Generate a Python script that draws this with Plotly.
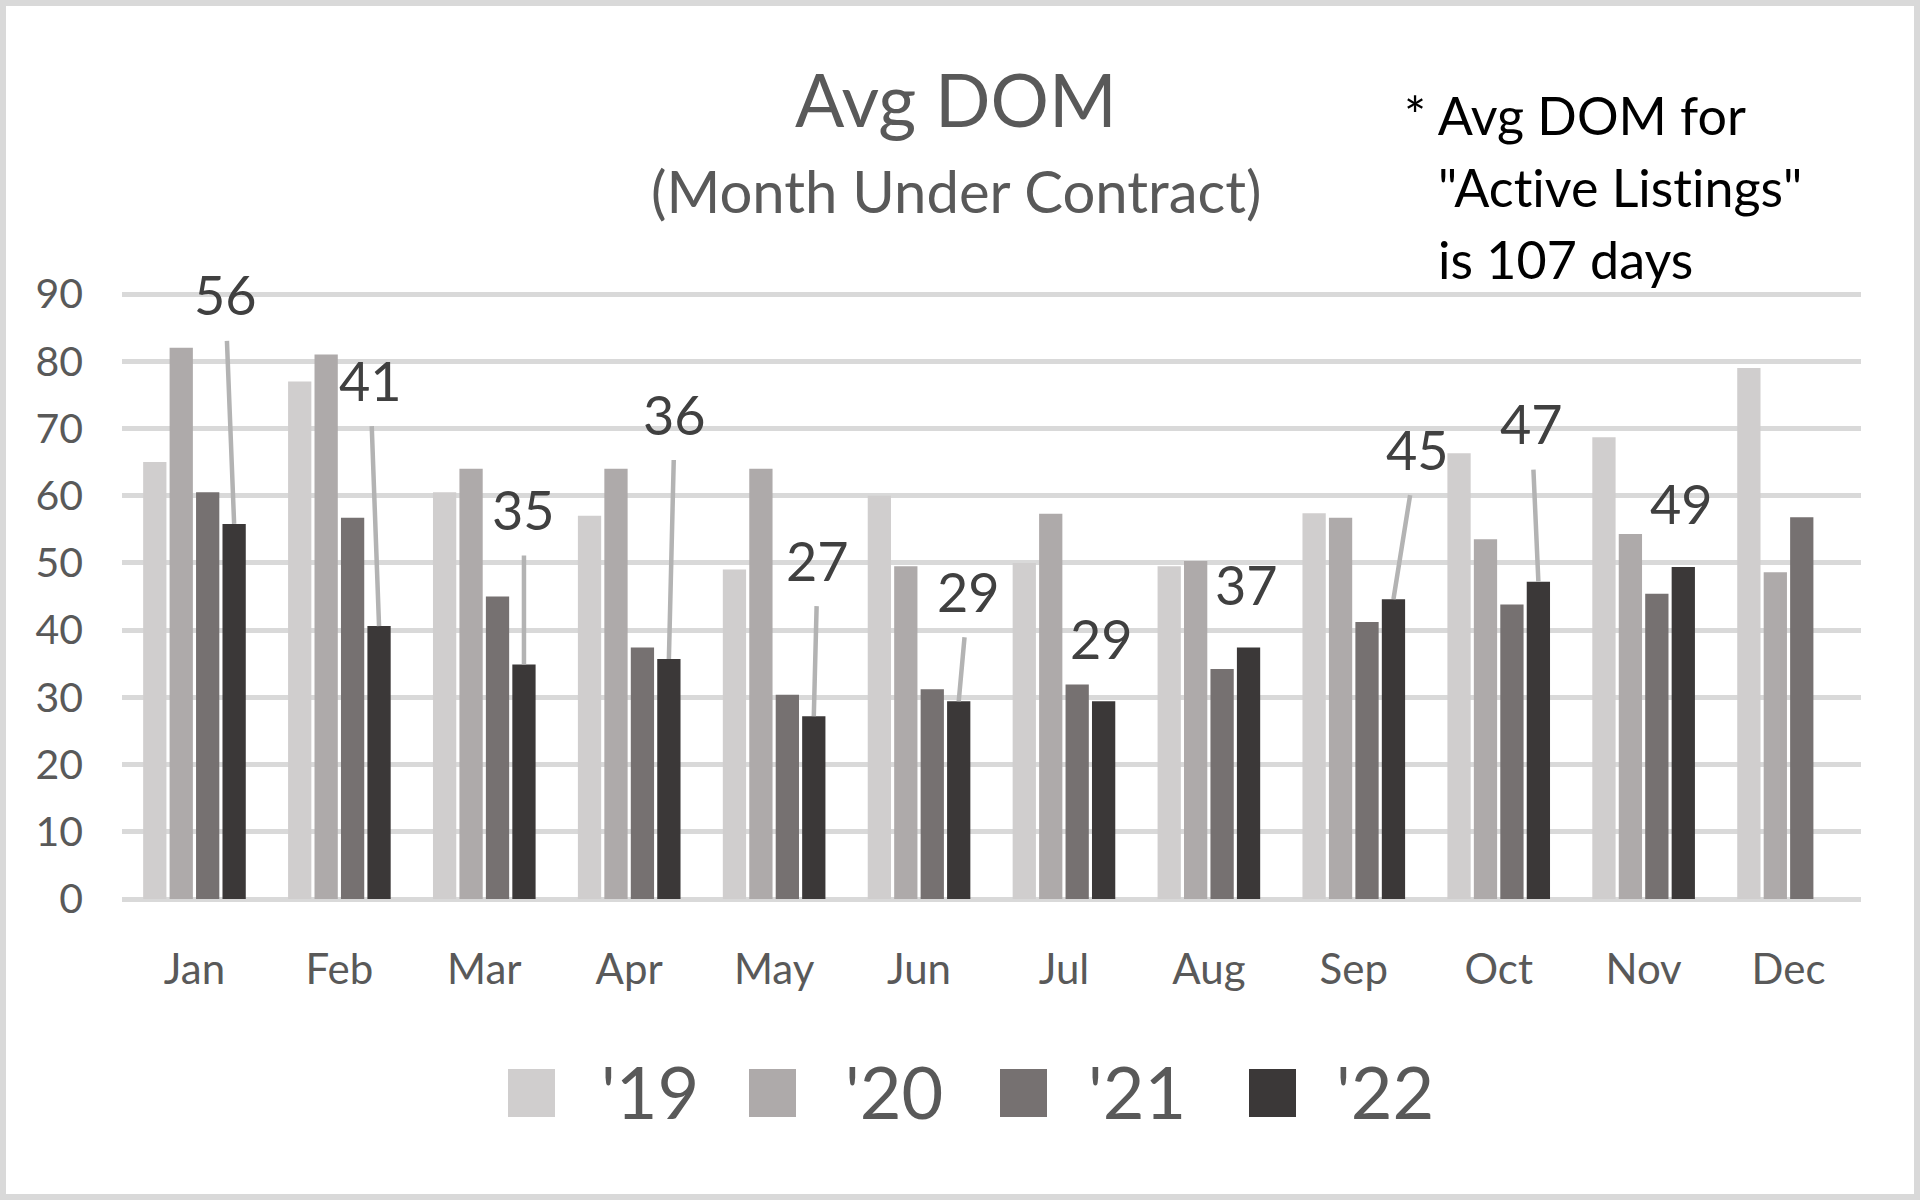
import plotly.graph_objects as go

# ---------------- data ----------------
months = ["Jan", "Feb", "Mar", "Apr", "May", "Jun", "Jul", "Aug", "Sep", "Oct", "Nov", "Dec"]
series_names = ["'19", "'20", "'21", "'22"]
dom_2019 = [65, 77, 60.5, 57, 49, 60, 50, 49.5, 57.4, 66.3, 68.7, 79]
dom_2020 = [82, 81, 64, 64, 64, 49.5, 57.3, 50.3, 56.7, 53.5, 54.3, 48.6]
dom_2021 = [60.5, 56.7, 45, 37.4, 30.4, 31.2, 31.9, 34.2, 41.2, 43.8, 45.4, 56.8]
dom_2022 = [55.8, 40.6, 34.9, 35.7, 27.2, 29.4, 29.4, 37.4, 44.6, 47.2, 49.4, None]
y_ticks = [0, 10, 20, 30, 40, 50, 60, 70, 80, 90]
title_text = "Avg DOM"
subtitle_text = "(Month Under Contract)"
# \u200c prevents the "ti" ligature of the font
note_lines = ["* Avg DOM for", "\"Act\u200cive List\u200cings\"", "is 107 days"]

# ---------------- style ----------------
colors = ["#d0cece", "#aeaaaa", "#767171", "#3b3838"]
FONT = "Lato"
TXT = "#595959"
W, H = 1920, 1200
ML, MR, MT, MB = 122, 59, 292, 301
PW, PH = W - ML - MR, H - MT - MB
BARGAP, GROUPGAP = 0.27, 0.12

# label placement for the '22 labels: (ax, ay) arrow offsets in px, or None -> plain label above bar
label_offsets = [(-9, -229), (-9, -246), (0, -155), (6, -245), (4, -156), (10, -110),
                 None, None, (24, -150), (-7, -158), None, None]


def px(X):
    return (X - ML) / PW


def py(Y):
    return (H - MB - Y) / PH


series = [dom_2019, dom_2020, dom_2021, dom_2022]
fig = go.Figure()
for name, vals, col in zip(series_names, series, colors):
    fig.add_trace(go.Bar(x=months, y=vals, name=name, marker=dict(color=col, line_width=0),
                         showlegend=False))

slot = (1 - BARGAP) / len(series)
off22 = 1.5 * slot

annotations = []
for i, (v, off) in enumerate(zip(dom_2022, label_offsets)):
    if v is None:
        continue
    txt = f"{v:.0f}"
    if off is not None:
        annotations.append(dict(x=i + off22, y=v, xref="x", yref="y", text=txt,
                                showarrow=True, arrowhead=0, arrowwidth=4.5, arrowcolor="#b3b3b3",
                                ax=off[0], ay=off[1], standoff=0, startstandoff=12,
                                font=dict(family=FONT, size=54, color="#404040")))
    else:
        annotations.append(dict(x=i + off22, y=v, xref="x", yref="y", text=txt,
                                showarrow=False, yshift=63, xshift=-2,
                                font=dict(family=FONT, size=54, color="#404040")))

# titles
annotations.append(dict(x=px(956), y=py(99), xref="paper", yref="paper", text=title_text,
                        showarrow=False, xanchor="center", yanchor="middle",
                        font=dict(family=FONT, size=73, color=TXT)))
annotations.append(dict(x=px(956), y=py(191), xref="paper", yref="paper", text=subtitle_text,
                        showarrow=False, xanchor="center", yanchor="middle",
                        font=dict(family=FONT, size=58, color=TXT)))
# note
for j, (line, lx) in enumerate(zip(note_lines, [1402, 1436, 1436])):
    annotations.append(dict(x=px(lx), y=py(115 + 72 * j), xref="paper", yref="paper", text=line,
                            showarrow=False, xanchor="left", yanchor="middle",
                            font=dict(family=FONT, size=52, color="#000000")))

# legend (drawn manually for large swatches)
shapes = []
leg_sq_x = [508, 749, 1000, 1249]
leg_txt_x = [599, 843, 1086, 1334]
for name, col, sx, tx in zip(series_names, colors, leg_sq_x, leg_txt_x):
    shapes.append(dict(type="rect", xref="paper", yref="paper", x0=px(sx), x1=px(sx + 47),
                       y0=py(1117), y1=py(1069), fillcolor=col, line_width=0))
    annotations.append(dict(x=px(tx), y=py(1091), xref="paper", yref="paper", text=name,
                            showarrow=False, xanchor="left", yanchor="middle",
                            font=dict(family=FONT, size=72, color=TXT)))

# outer frame
shapes.append(dict(type="rect", xref="paper", yref="paper", x0=px(3), x1=px(W - 3),
                   y0=py(H - 3), y1=py(3), line=dict(color="#d9d9d9", width=6),
                   fillcolor="rgba(0,0,0,0)", layer="below"))

fig.update_layout(
    width=W, height=H, margin=dict(l=ML, r=MR, t=MT, b=MB, autoexpand=False),
    paper_bgcolor="white", plot_bgcolor="white", template="none",
    barmode="group", bargap=BARGAP, bargroupgap=GROUPGAP,
    font=dict(family=FONT, color=TXT),
    annotations=annotations, shapes=shapes, showlegend=False,
)
fig.update_xaxes(type="category", showgrid=False, showline=False, zeroline=False, ticks="",
                 tickfont=dict(family=FONT, size=42, color=TXT), ticklabelstandoff=42)
fig.update_yaxes(range=[0, 90.3], tickvals=y_ticks, showgrid=True, gridcolor="#d9d9d9", gridwidth=5,
                 zeroline=True, zerolinecolor="#d9d9d9", zerolinewidth=5, showline=False, ticks="",
                 tickfont=dict(family=FONT, size=41, color=TXT), ticklabelstandoff=38)

fig.write_html("out.html", config={"displayModeBar": False},
               post_script="document.body.style.margin='0';document.body.style.overflow='hidden';")
